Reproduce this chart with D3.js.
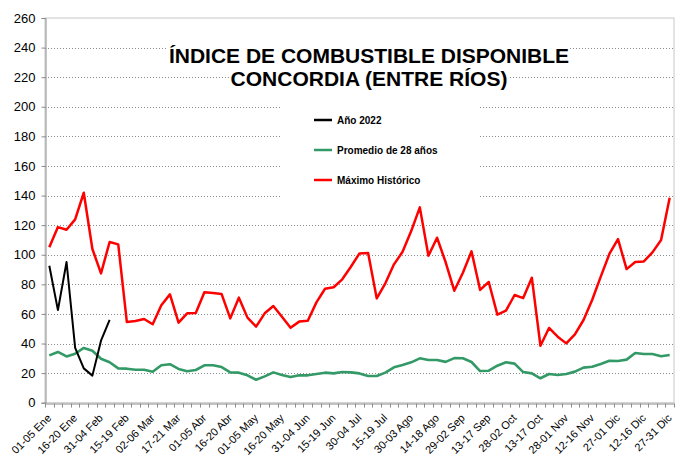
<!DOCTYPE html>
<html>
<head>
<meta charset="utf-8">
<script src="https://cdn.jsdelivr.net/npm/d3@7"></script>
<style>
  body { margin: 0; background: #fff; }
  svg { font-family: "Liberation Sans", Arial, sans-serif; }
</style>
</head>
<body>
<svg width="675" height="463"></svg>
<script>
// pentads of the year
var categories = [
  "01-05 Ene","06-10 Ene","11-15 Ene","16-20 Ene","21-25 Ene","26-30 Ene","31-04 Feb",
  "05-09 Feb","10-14 Feb","15-19 Feb","20-24 Feb","25-01 Mar",
  "02-06 Mar","07-11 Mar","12-16 Mar","17-21 Mar","22-26 Mar","27-31 Mar",
  "01-05 Abr","06-10 Abr","11-15 Abr","16-20 Abr","21-25 Abr","26-30 Abr",
  "01-05 May","06-10 May","11-15 May","16-20 May","21-25 May","26-30 May","31-04 Jun",
  "05-09 Jun","10-14 Jun","15-19 Jun","20-24 Jun","25-29 Jun","30-04 Jul",
  "05-09 Jul","10-14 Jul","15-19 Jul","20-24 Jul","25-29 Jul","30-03 Ago",
  "04-08 Ago","09-13 Ago","14-18 Ago","19-23 Ago","24-28 Ago","29-02 Sep",
  "03-07 Sep","08-12 Sep","13-17 Sep","18-22 Sep","23-27 Sep","28-02 Oct",
  "03-07 Oct","08-12 Oct","13-17 Oct","18-22 Oct","23-27 Oct","28-01 Nov",
  "02-06 Nov","07-11 Nov","12-16 Nov","17-21 Nov","22-26 Nov","27-01 Dic",
  "02-06 Dic","07-11 Dic","12-16 Dic","17-21 Dic","22-26 Dic","27-31 Dic"
]

var anio2022 = [92.6, 62.6, 95.1, 37, 23.2, 18.3, 41.9, 55.9]

var promedio = [32.0, 34.3, 31.3, 33.1, 37.0, 35.1, 29.7, 27.3, 23.2, 23.0,
  22.3, 22.3, 20.9, 25.3, 26.0, 22.8, 21.2, 22.1, 25.3, 25.3,
  24.1, 20.5, 20.3, 18.5, 15.5, 17.8, 20.5, 18.7, 17.3, 18.6,
  18.5, 19.4, 20.3, 19.8, 20.7, 20.5, 19.8, 18.0, 18.0, 20.3,
  23.9, 25.5, 27.3, 30.0, 28.9, 28.9, 27.6, 30.1, 30.0, 27.5,
  21.4, 21.6, 25.0, 27.3, 26.4, 20.7, 19.8, 16.5, 19.4, 18.7,
  19.4, 21.0, 23.7, 24.3, 26.1, 28.4, 28.2, 29.1, 33.6, 32.9,
  32.9, 31.4, 32.2]

var maximo = [105.0, 118.7, 116.9, 123.9, 141.9, 103.9, 87.4, 108.6, 107.0, 54.5,
  55.2, 56.6, 53.0, 65.8, 73.2, 54.1, 60.4, 60.6, 74.6, 74.1,
  73.4, 57.0, 71.0, 57.5, 51.4, 60.4, 65.3, 58.1, 50.6, 54.8,
  55.4, 67.8, 77.0, 78.0, 83.4, 91.9, 100.9, 101.2, 70.5, 80.7,
  93.5, 102.0, 116.0, 132.0, 99.3, 111.5, 94.9, 75.7, 87.8, 102.3,
  76.2, 81.6, 59.5, 62.2, 72.8, 70.7, 84.5, 38.5, 50.5, 44.6,
  40.1, 46.2, 55.9, 69.4, 85.2, 100.5, 110.6, 90.3, 95.1, 95.5,
  101.6, 109.9, 138.5]

var yTicks = [0, 20, 40, 60, 80, 100, 120, 140, 160, 180, 200, 220, 240, 260]

var series = [
  {name: "Año 2022", values: anio2022, color: "#000000", width: 2},
  {name: "Promedio de 28 años", values: promedio, color: "#339966", width: 2.6},
  {name: "Máximo Histórico", values: maximo, color: "#ff0000", width: 2.5}
]

var svg = d3.select("svg"),
  width = +svg.attr("width"),
  height = +svg.attr("height");

var margin = {top: 18, right: 1, bottom: 60, left: 45}

var x = d3.scaleBand()
  .domain(d3.range(categories.length))
  .range([margin.left, width - margin.right])
  .padding(0)

var y = d3.scaleLinear()
  .domain([0, 260])
  .range([402.7, margin.top])

// plot frame
svg.append("rect")
  .attr("x", margin.left)
  .attr("y", y(260))
  .attr("width", width - margin.right - margin.left)
  .attr("height", y(0) - y(260))
  .attr("fill", "none")
  .attr("stroke", "#c8c8c8")
  .attr("stroke-width", 1)

// gridlines
svg.append("g")
  .selectAll("line")
  .data(yTicks.filter(d => d > 0 && d < 260))
  .enter()
  .append("line")
  .attr("x1", margin.left)
  .attr("x2", width - margin.right)
  .attr("y1", d => Math.round(y(d)) + 0.5)
  .attr("y2", d => Math.round(y(d)) + 0.5)
  .attr("stroke", "#8c8c8c")
  .attr("stroke-width", 1)
  .attr("stroke-dasharray", "1,2")

// white boxes behind title lines and legend
svg.append("rect").attr("x", 168).attr("y", 42).attr("width", 402).attr("height", 26).attr("fill", "#fff")
svg.append("rect").attr("x", 230).attr("y", 68).attr("width", 280).attr("height", 24).attr("fill", "#fff")
svg.append("rect").attr("x", 280).attr("y", 100).attr("width", 198).attr("height", 98).attr("fill", "#fff")

// y axis
var yAxis = d3.axisLeft(y)
  .tickValues(yTicks)
  .tickSize(4)
  .tickPadding(6)

var gy = svg.append("g")
  .attr("transform", "translate(" + (margin.left + 0.5) + ",0)")
  .call(yAxis)
gy.select(".domain").attr("stroke", "#8c8c8c")
gy.selectAll(".tick line").attr("stroke", "#8c8c8c")
gy.selectAll("text")
  .style("font-size", "13px")
  .attr("fill", "#000")

// x axis
var xAxis = d3.axisBottom(x)
  .tickValues(d3.range(0, categories.length, 3))
  .tickFormat(i => categories[i])
  .tickSize(0)
  .tickPadding(6)

var gx = svg.append("g")
  .attr("transform", "translate(0," + (Math.round(y(0)) + 0.5) + ")")
  .call(xAxis)
gx.select(".domain").attr("stroke", "#8c8c8c")
gx.selectAll("text")
  .style("font-size", "11px")
  .attr("fill", "#000")
  .attr("text-anchor", "end")
  .attr("dx", "-0.8em")
  .attr("dy", "0.6em")
  .attr("transform", "rotate(-45)")

// small category ticks
gx.append("g")
  .selectAll("line")
  .data(d3.range(categories.length + 1))
  .enter()
  .append("line")
  .attr("x1", i => Math.round(margin.left + i * x.bandwidth()) + 0.5)
  .attr("x2", i => Math.round(margin.left + i * x.bandwidth()) + 0.5)
  .attr("y1", 0)
  .attr("y2", 4)
  .attr("stroke", "#8c8c8c")

// lines
var line = d3.line()
  .x((d, i) => x(i) + x.bandwidth() / 2)
  .y(d => y(d))

svg.append("g")
  .selectAll("path")
  .data(series.slice().reverse())
  .enter()
  .append("path")
  .attr("d", d => line(d.values))
  .attr("fill", "none")
  .attr("stroke", d => d.color)
  .attr("stroke-width", d => d.width)
  .attr("stroke-linejoin", "round")

// title
svg.append("text")
  .attr("x", 369)
  .attr("y", 63)
  .attr("text-anchor", "middle")
  .style("font-size", "21px")
  .style("font-weight", "bold")
  .text("ÍNDICE DE COMBUSTIBLE DISPONIBLE")

svg.append("text")
  .attr("x", 369)
  .attr("y", 86)
  .attr("text-anchor", "middle")
  .style("font-size", "21px")
  .style("font-weight", "bold")
  .text("CONCORDIA (ENTRE RÍOS)")

// legend
var legend = svg.append("g")
  .selectAll("g")
  .data(series)
  .enter()
  .append("g")
  .attr("transform", (d, i) => "translate(314," + (120 + i * 30) + ")")

legend.append("line")
  .attr("x1", 0)
  .attr("x2", 18)
  .attr("stroke", d => d.color)
  .attr("stroke-width", 2.5)

legend.append("text")
  .attr("x", 23)
  .attr("dy", "0.35em")
  .style("font-size", "10px")
  .style("font-weight", "bold")
  .text(d => d.name)
</script>
</body>
</html>
